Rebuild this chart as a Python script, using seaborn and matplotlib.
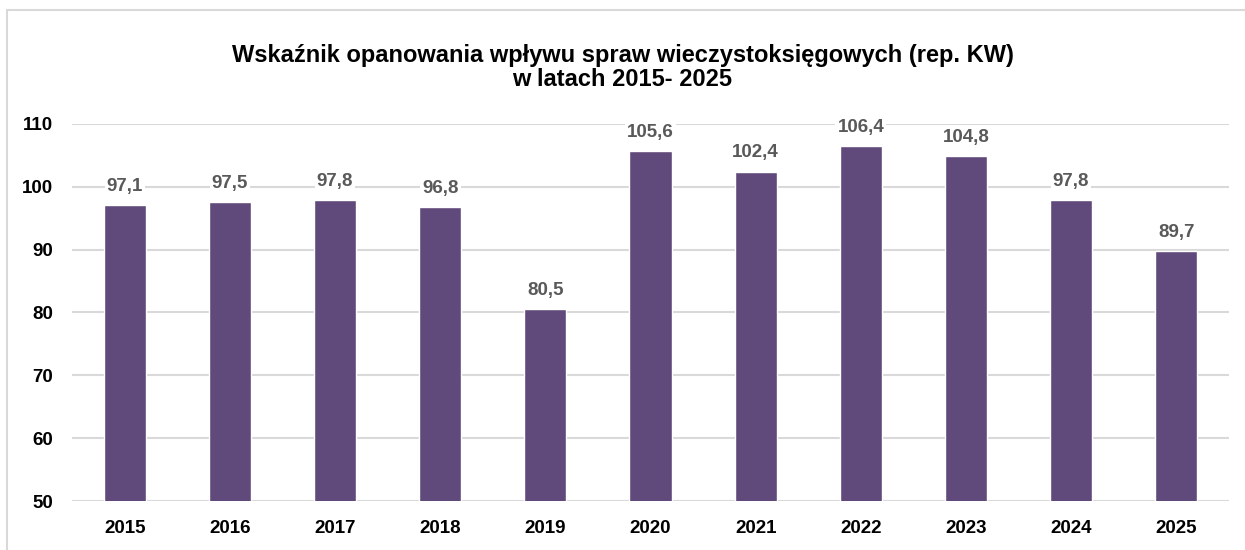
import pandas as pd
import seaborn as sns
import matplotlib.pyplot as plt
from matplotlib.patches import Rectangle

# ------------------ DANE ------------------ #
lata = ["2015", "2016", "2017", "2018", "2019", "2020", "2021", "2022", "2023", "2024", "2025"]
wartosci = [97.1, 97.5, 97.8, 96.8, 80.5, 105.6, 102.4, 106.4, 104.8, 97.8, 89.7]
yticks = [50, 60, 70, 80, 90, 100, 110]

df = pd.DataFrame({"rok": lata, "wskaznik": wartosci})

sns.set_style("white")
plt.rcParams["font.family"] = ["Liberation Sans Narrow", "Liberation Sans", "DejaVu Sans"]

fig = plt.figure(figsize=(12.45, 5.5), dpi=100)
ax = fig.add_axes([0.058, 0.089, 0.929, 0.686])

sns.barplot(data=df, x="rok", y="wskaznik", color="#604A7B", width=0.4,
            saturation=1, ax=ax, zorder=3)

ax.set_ylim(50, 110)
ax.set_yticks(yticks)
ax.set_yticklabels([str(t) for t in yticks], fontsize=13.5, fontweight="bold", color="black")
ax.set_xticks(range(len(lata)))
ax.set_xticklabels(lata, fontsize=13.5, fontweight="bold", color="black")
ax.tick_params(axis="x", length=0, pad=14)
ax.tick_params(axis="y", length=0, pad=14)
ax.yaxis.grid(True, color="#D9D9D9", linewidth=1.5, zorder=0)
ax.set_axisbelow(True)
for s in ax.spines.values():
    s.set_visible(False)
ax.set_xlabel("")
ax.set_ylabel("")

for i, v in enumerate(wartosci):
    ax.text(i, v + 1.6, f"{v:.1f}".replace(".", ","), ha="center", va="bottom",
            fontsize=13.5, fontweight="bold", color="#595959", zorder=4,
            bbox=dict(facecolor="white", edgecolor="none", pad=1.5))

fig.text(0.5, 0.877, "Wskaźnik opanowania wpływu spraw wieczystoksięgowych (rep. KW)\nw latach 2015- 2025",
         ha="center", va="center", fontsize=17, fontweight="bold", linespacing=1.05, color="black")

# ramka wykresu
fig.patches.append(Rectangle((7 / 1245, -0.1), 1.2, 1.1 - 10 / 550,
                             transform=fig.transFigure, fill=False,
                             edgecolor="#D9D9D9", linewidth=1.5))

plt.savefig("out.png", dpi=100)
plt.close()
